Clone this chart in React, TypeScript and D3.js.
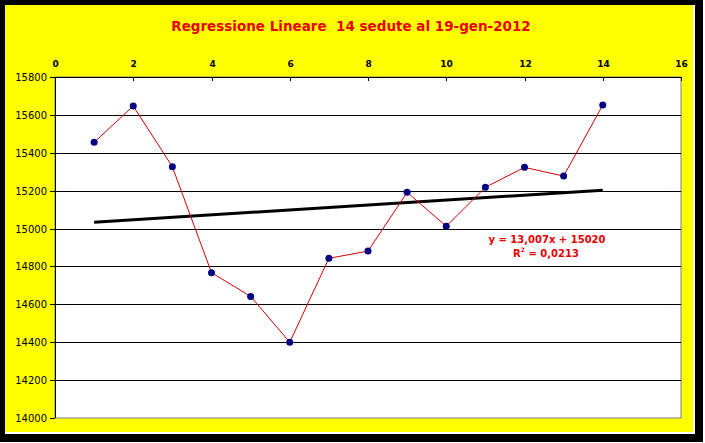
import React from "react";
import * as d3 from "d3";

// ── Data ──────────────────────────────────────────────────────────────────────

const sessions = [1, 2, 3, 4, 5, 6, 7, 8, 9, 10, 11, 12, 13, 14];
const closes = [
  15455, 15647, 15326, 14767, 14642, 14400, 14843, 14881, 15191, 15012, 15218,
  15323, 15277, 15652,
];
const xTicks = [0, 2, 4, 6, 8, 10, 12, 14, 16];
const yTicks = [14000, 14200, 14400, 14600, 14800, 15000, 15200, 15400, 15600, 15800];

const TREND_SLOPE = 13.007;
const TREND_INTERCEPT = 15020;
const TITLE = "Regressione Lineare\u00a0\u00a014 sedute al 19-gen-2012";
const EQUATION = "y = 13,007x + 15020";
const R2 = "0,0213";

// ── Chart ─────────────────────────────────────────────────────────────────────

const W = 705;
const H = 443;
const plot = { left: 55, right: 681, top: 77, bottom: 418 };
const FONT = "'DejaVu Sans', Verdana, sans-serif";

export default function App() {
  const x = d3.scaleLinear().domain([0, 16]).range([plot.left, plot.right]);
  const y = d3.scaleLinear().domain([14000, 15800]).range([plot.bottom, plot.top]);

  const line = d3
    .line<number>()
    .x((_, i) => x(sessions[i]))
    .y((d) => y(d));

  const trendX = [sessions[0], sessions[sessions.length - 1]];

  return (
    <div style={{ position: "absolute", left: 0, top: 0 }}>
      <svg width={W} height={H} style={{ display: "block", background: "#fff" }}>
        {/* frame */}
        <rect x={0} y={0} width={703} height={442} fill="#000" />
        <rect x={5} y={5} width={690} height={429} fill="#fff" />
        <rect x={5} y={5} width={688} height={427} fill="#FFFF00" />

        {/* title */}
        <text
          x={351}
          y={31}
          textAnchor="middle"
          fill="#E80000"
          fontFamily={FONT}
          fontWeight="bold"
          fontSize={13.5}
        >
          {TITLE}
        </text>

        {/* plot area */}
        <rect
          x={plot.left}
          y={plot.top}
          width={plot.right - plot.left}
          height={plot.bottom - plot.top}
          fill="#fff"
          stroke="#808080"
          strokeWidth={1}
        />

        {/* gridlines */}
        {yTicks.slice(1, -1).map((t) => (
          <line
            key={t}
            x1={plot.left}
            x2={plot.right}
            y1={Math.round(y(t)) + 0.5}
            y2={Math.round(y(t)) + 0.5}
            stroke="#000"
            strokeWidth={1}
          />
        ))}

        {/* y axis */}
        <line x1={plot.left + 0.5} x2={plot.left + 0.5} y1={plot.top} y2={plot.bottom} stroke="#000" />
        {yTicks.map((t) => (
          <g key={t} transform={`translate(0,${Math.round(y(t)) + 0.5})`}>
            <line x1={plot.left - 5} x2={plot.left} stroke="#000" />
            <text
              x={plot.left - 8}
              dy="0.35em"
              textAnchor="end"
              fontFamily={FONT}
              fontSize={10}
              fill="#000"
            >
              {t}
            </text>
          </g>
        ))}

        {/* x axis (top) */}
        <line x1={plot.left} x2={plot.right} y1={plot.top + 0.5} y2={plot.top + 0.5} stroke="#000" />
        {xTicks.map((t) => (
          <g key={t} transform={`translate(${Math.round(x(t)) + 0.5},0)`}>
            <line y1={plot.top} y2={plot.top + 4} stroke="#000" />
            <text
              y={67}
              textAnchor="middle"
              fontFamily={FONT}
              fontWeight="bold"
              fontSize={9}
              fill="#000"
            >
              {t}
            </text>
          </g>
        ))}

        {/* trend line */}
        <line
          x1={x(trendX[0])}
          x2={x(trendX[1])}
          y1={y(TREND_SLOPE * trendX[0] + TREND_INTERCEPT)}
          y2={y(TREND_SLOPE * trendX[1] + TREND_INTERCEPT)}
          stroke="#000"
          strokeWidth={3}
        />

        {/* series */}
        <path d={line(closes) ?? ""} fill="none" stroke="#D00000" strokeWidth={1} />
        {closes.map((v, i) => (
          <circle key={i} cx={x(sessions[i])} cy={y(v)} r={3.5} fill="#000080" />
        ))}

        {/* equation */}
        <g fontFamily={FONT} fontWeight="bold" fontSize={10} fill="#E80000" textAnchor="middle">
          <text x={547} y={243}>
            {EQUATION}
          </text>
          <text x={546} y={257}>
            R<tspan fontSize={6} dy={-5}>2</tspan>
            <tspan dy={5}>{` = ${R2}`}</tspan>
          </text>
        </g>
      </svg>
    </div>
  );
}
